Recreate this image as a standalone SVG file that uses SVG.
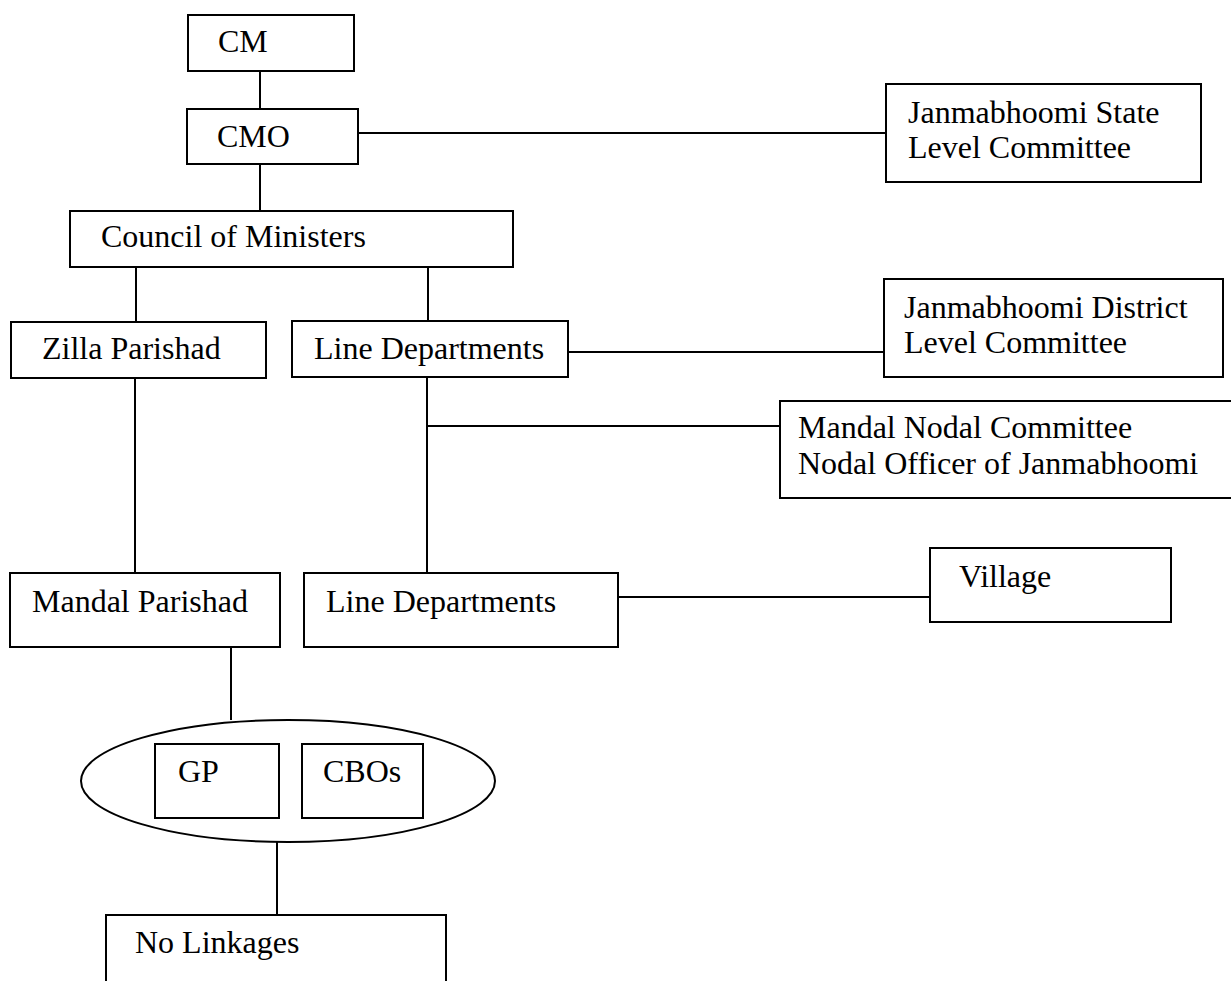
<svg xmlns="http://www.w3.org/2000/svg" width="1231" height="981" viewBox="0 0 1231 981">
<style>
.box{fill:#fff;stroke:#000;stroke-width:2}
.t{font-family:"Liberation Serif","Times New Roman",serif;font-size:32px;fill:#000}
.c line{stroke:#000;stroke-width:2}
</style>
<rect width="1231" height="981" fill="#fff"/>
<g class="c" id="connectors">
<line x1="260" y1="71" x2="260" y2="109"/>
<line x1="260" y1="164" x2="260" y2="211"/>
<line x1="358" y1="133" x2="886" y2="133"/>
<line x1="136" y1="257" x2="136" y2="322"/>
<line x1="428" y1="257" x2="428" y2="321"/>
<line x1="135" y1="378" x2="135" y2="573"/>
<line x1="427" y1="377" x2="427" y2="573"/>
<line x1="427" y1="426" x2="780" y2="426"/>
<line x1="568" y1="352" x2="884" y2="352"/>
<line x1="618" y1="597" x2="930" y2="597"/>
<line x1="231" y1="647" x2="231" y2="720"/>
<line x1="277" y1="842" x2="277" y2="915"/>
</g>
<g id="cm"><rect class="box" x="188" y="15" width="166" height="56"/><text class="t" x="218" y="52">CM</text></g>
<g id="cmo"><rect class="box" x="187" y="109" width="171" height="55"/><text class="t" x="217" y="147">CMO</text></g>
<g id="state"><rect class="box" x="886" y="84" width="315" height="98"/><text class="t" x="908" y="123">Janmabhoomi State</text><text class="t" x="908" y="158">Level Committee</text></g>
<g id="council"><rect class="box" x="70" y="211" width="443" height="56"/><text class="t" x="101" y="247">Council of Ministers</text></g>
<g id="zilla"><rect class="box" x="11" y="322" width="255" height="56"/><text class="t" x="42" y="359">Zilla Parishad</text></g>
<g id="linedept1"><rect class="box" x="292" y="321" width="276" height="56"/><text class="t" x="314" y="359">Line Departments</text></g>
<g id="district"><rect class="box" x="884" y="279" width="339" height="98"/><text class="t" x="904" y="318">Janmabhoomi District</text><text class="t" x="904" y="353">Level Committee</text></g>
<g id="mandalnodal"><rect class="box" x="780" y="401" width="460" height="97"/><text class="t" x="798" y="438">Mandal Nodal Committee</text><text class="t" x="798" y="474">Nodal Officer of Janmabhoomi</text></g>
<g id="mandal"><rect class="box" x="10" y="573" width="270" height="74"/><text class="t" x="32" y="612">Mandal Parishad</text></g>
<g id="linedept2"><rect class="box" x="304" y="573" width="314" height="74"/><text class="t" x="326" y="612">Line Departments</text></g>
<g id="village"><rect class="box" x="930" y="548" width="241" height="74"/><text class="t" x="959" y="587">Village</text></g>
<g id="group"><ellipse class="box" cx="288" cy="781" rx="207" ry="61"/></g>
<g id="gp"><rect class="box" x="155" y="744" width="124" height="74"/><text class="t" x="178" y="782">GP</text></g>
<g id="cbos"><rect class="box" x="302" y="744" width="121" height="74"/><text class="t" x="323" y="782">CBOs</text></g>
<g id="nolink"><rect class="box" x="106" y="915" width="340" height="80"/><text class="t" x="135" y="953">No Linkages</text></g>
</svg>
